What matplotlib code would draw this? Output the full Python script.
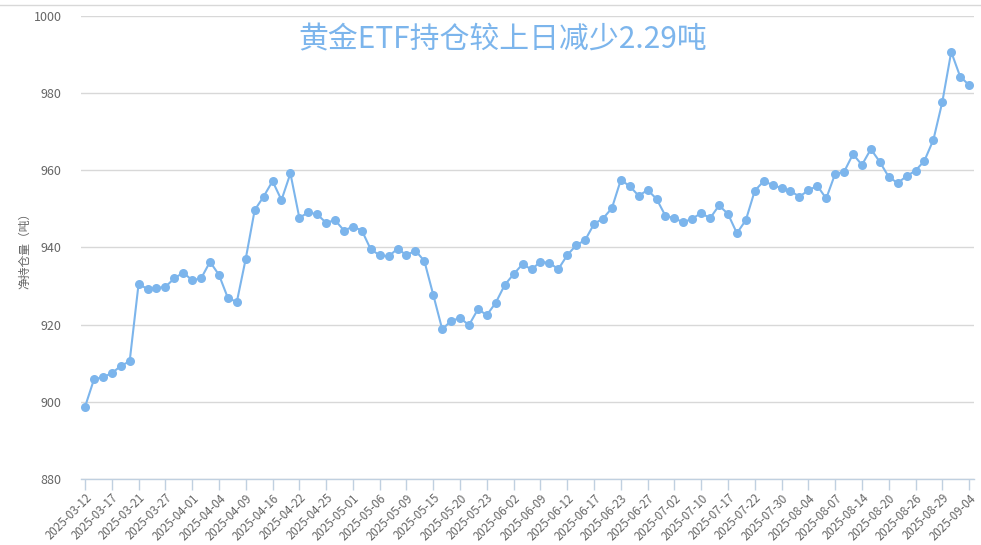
import matplotlib
matplotlib.use("Agg")
import matplotlib.pyplot as plt
from matplotlib.lines import Line2D

plt.rcParams['font.family'] = ['Noto Sans CJK SC', 'DejaVu Sans']

title = "黄金ETF持仓较上日减少2.29吨"
y_label = "净持仓量（吨）"

holdings = [
    898.7, 905.8, 906.4, 907.4, 909.3, 910.5, 930.6, 929.2, 929.5, 929.8,
    932.0, 933.5, 931.5, 932.0, 936.3, 932.9, 926.9, 925.9, 937.1, 949.7,
    953.2, 957.2, 952.3, 959.2, 947.7, 949.1, 948.6, 946.4, 947.1, 944.4,
    945.4, 944.4, 939.5, 938.0, 937.7, 939.7, 938.0, 939.2, 936.5, 927.7,
    918.8, 921.0, 921.7, 919.9, 924.0, 922.5, 925.7, 930.3, 933.1, 935.7,
    934.3, 936.3, 936.0, 934.4, 938.0, 940.6, 941.9, 946.1, 947.5, 950.2,
    957.5, 955.9, 953.4, 954.9, 952.6, 948.2, 947.6, 946.5, 947.5, 948.9,
    947.6, 950.9, 948.7, 943.7, 947.1, 954.7, 957.2, 956.2, 955.4, 954.6,
    953.2, 954.8, 956.0, 952.7, 959.1, 959.6, 964.2, 961.4, 965.5, 962.2,
    958.3, 956.7, 958.5, 959.9, 962.5, 967.9, 977.7, 990.7, 984.3, 982.1,
]

tick_labels = [
    "2025-03-12", "2025-03-17", "2025-03-21", "2025-03-27", "2025-04-01",
    "2025-04-04", "2025-04-09", "2025-04-16", "2025-04-22", "2025-04-25",
    "2025-05-01", "2025-05-06", "2025-05-09", "2025-05-15", "2025-05-20",
    "2025-05-23", "2025-06-02", "2025-06-09", "2025-06-12", "2025-06-17",
    "2025-06-23", "2025-06-27", "2025-07-02", "2025-07-10", "2025-07-17",
    "2025-07-22", "2025-07-30", "2025-08-04", "2025-08-07", "2025-08-14",
    "2025-08-20", "2025-08-26", "2025-08-29", "2025-09-04",
]
tick_step = 3

y_ticks = [880, 900, 920, 940, 960, 980, 1000]

W, H = 981, 545
fig = plt.figure(figsize=(W / 100, H / 100), dpi=100)
ax = fig.add_axes([81 / W, (H - 479) / H, (974 - 81) / W, (479 - 16) / H])

x = list(range(len(holdings)))
line_color = "#7cb5ec"
ax.plot(x, holdings, color=line_color, lw=1.5, marker="o", markersize=6.5,
        markeredgewidth=0, zorder=3, clip_on=False)

ax.set_xlim(-0.45, len(holdings) - 1 + 0.55)
ax.set_ylim(880, 1000)
ax.set_yticks(y_ticks)
ax.set_yticklabels([str(v) for v in y_ticks])
ax.grid(axis="y", color="#d8d8d8", lw=1)
ax.set_axisbelow(True)

ax.set_xticks(x[::tick_step])
ax.set_xticklabels(tick_labels, rotation=45, ha="right", va="top",
                   rotation_mode="anchor")

for s in ["top", "right", "left"]:
    ax.spines[s].set_visible(False)
ax.spines["bottom"].set_color("#c0d0e0")
ax.spines["bottom"].set_linewidth(1)

ax.tick_params(axis="x", colors="#c0d0e0", length=8, width=1, labelsize=8.3,
               labelcolor="#666666", pad=1)
ax.tick_params(axis="y", length=0, labelsize=9, labelcolor="#666666", pad=14)

ax.set_ylabel(y_label, color="#666666", fontsize=8.5)
ax.yaxis.set_label_coords(-50 / (974 - 81), 0.5)

fig.text(503 / W, 1 - 40 / H, title, ha="center", va="center",
         fontsize=21.5, color="#7cb5ec")

fig.add_artist(Line2D([0, 980 / W], [1 - 5 / H, 1 - 5 / H], color="#d8d8d8",
                      lw=1, transform=fig.transFigure))

fig.savefig("out.png", dpi=100)
